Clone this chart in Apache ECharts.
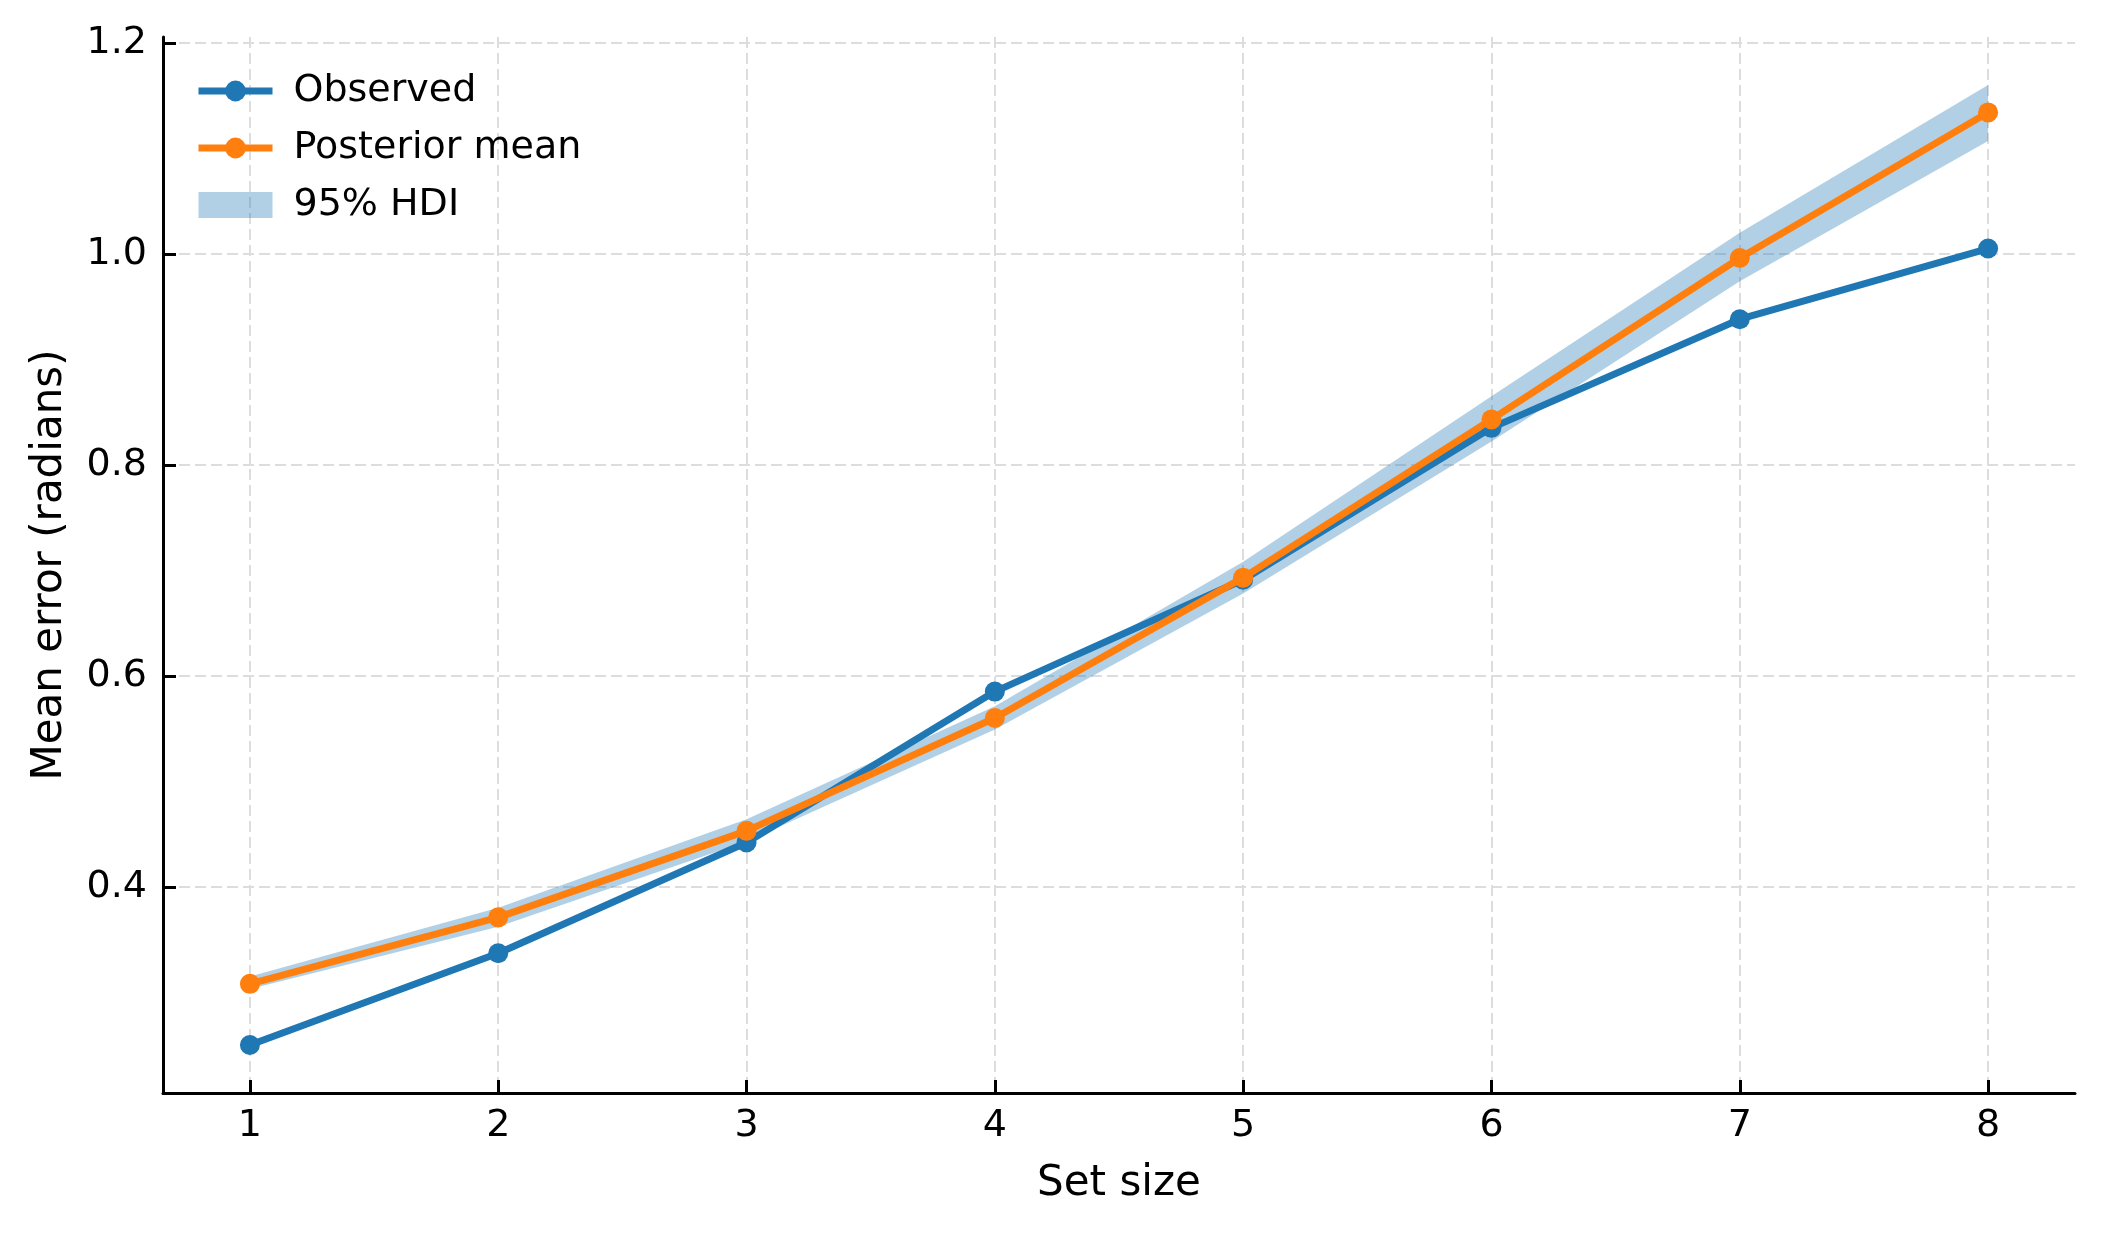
<!DOCTYPE html>
<html>
<head>
<meta charset="utf-8">
<script src="https://cdn.jsdelivr.net/npm/echarts@6/dist/echarts.min.js"></script>
<style>
  html, body { margin: 0; padding: 0; background: #fff; }
  #chart { width: 2104px; height: 1234px; }
</style>
</head>
<body>
<div id="chart"></div>
<script>
// data
var setSizes = [1, 2, 3, 4, 5, 6, 7, 8];
var observed = [0.250, 0.337, 0.442, 0.585, 0.691, 0.835, 0.938, 1.005];
var posteriorMean = [0.308, 0.371, 0.453, 0.560, 0.693, 0.843, 0.996, 1.134];
var hdiLower = [0.303, 0.362, 0.443, 0.549, 0.678, 0.822, 0.974, 1.107];
var hdiUpper = [0.315, 0.380, 0.464, 0.571, 0.708, 0.865, 1.020, 1.160];
var xTicks = [1, 2, 3, 4, 5, 6, 7, 8];
var yTicks = [0.4, 0.6, 0.8, 1.0, 1.2];

var BLUE = "#1f77b4";
var ORANGE = "#ff7f0e";
var BAND = "rgba(31,119,180,0.35)";
var FONT = "DejaVu Sans";

function pairs(xs, ys) {
  return xs.map(function (x, i) { return [x, ys[i]]; });
}

// band drawn as one polygon: upper edge left->right, lower edge back
function renderBand(params, api) {
  if (params.dataIndex !== 0) return null;
  var pts = [];
  for (var i = 0; i < setSizes.length; i++) {
    pts.push(api.coord([setSizes[i], hdiUpper[i]]));
  }
  for (var j = setSizes.length - 1; j >= 0; j--) {
    pts.push(api.coord([setSizes[j], hdiLower[j]]));
  }
  return {
    type: "polygon",
    shape: { points: pts },
    style: { fill: BAND }
  };
}

var gridLine = { show: true, lineStyle: { color: "#dddddd", width: 2, type: [11, 5] } };

var option = {
  animation: false,
  backgroundColor: "#fff",
  textStyle: { fontFamily: FONT },
  grid: { left: 163, right: 29, top: 37, bottom: 141 },
  legend: {
    left: 190,
    top: 67,
    orient: "vertical",
    itemWidth: 74,
    itemHeight: 26,
    itemGap: 19,
    lineStyle: { width: 7 },
    textStyle: { fontFamily: FONT, fontSize: 38, lineHeight: 38, color: "#000", padding: [0, 0, 0, 16] },
    data: [
      { name: "Observed" },
      { name: "Posterior mean" },
      { name: "95% HDI", icon: "rect", itemStyle: { color: BAND } }
    ]
  },
  xAxis: {
    type: "value",
    min: 0.65,
    max: 8.35,
    name: "Set size",
    nameLocation: "middle",
    nameGap: 70,
    nameTextStyle: { fontFamily: FONT, fontSize: 42, color: "#000" },
    axisLine: { show: true, onZero: false, lineStyle: { color: "#000", width: 3 } },
    axisTick: { show: true, inside: true, length: 13, lineStyle: { color: "#000", width: 3 }, customValues: xTicks },
    axisLabel: { fontFamily: FONT, fontSize: 38, color: "#000", margin: 14, customValues: xTicks },
    splitLine: gridLine
  },
  yAxis: {
    type: "value",
    min: 0.2045,
    max: 1.2055,
    name: "Mean error (radians)",
    nameLocation: "middle",
    nameRotate: 90,
    nameGap: 92,
    nameTextStyle: { fontFamily: FONT, fontSize: 42, color: "#000" },
    axisLine: { show: true, onZero: false, lineStyle: { color: "#000", width: 3 } },
    axisTick: { show: true, inside: true, length: 13, lineStyle: { color: "#000", width: 3 }, customValues: yTicks },
    axisLabel: {
      fontFamily: FONT, fontSize: 38, color: "#000", margin: 16, customValues: yTicks,
      formatter: function (v) { return v.toFixed(1); }
    },
    splitLine: gridLine
  },
  series: [
    {
      name: "95% HDI",
      type: "custom",
      renderItem: renderBand,
      data: pairs(setSizes, hdiUpper),
      encode: { x: 0, y: 1 },
      itemStyle: { color: BAND },
      silent: true,
      z: 1
    },
    {
      name: "Observed",
      type: "line",
      data: pairs(setSizes, observed),
      symbol: "circle",
      symbolSize: 20,
      itemStyle: { color: BLUE },
      lineStyle: { color: BLUE, width: 7 },
      z: 3
    },
    {
      name: "Posterior mean",
      type: "line",
      data: pairs(setSizes, posteriorMean),
      symbol: "circle",
      symbolSize: 20,
      itemStyle: { color: ORANGE },
      lineStyle: { color: ORANGE, width: 7 },
      z: 4
    }
  ]
};

var myChart = echarts.init(document.getElementById("chart"));
myChart.setOption(option);
</script>
</body>
</html>
